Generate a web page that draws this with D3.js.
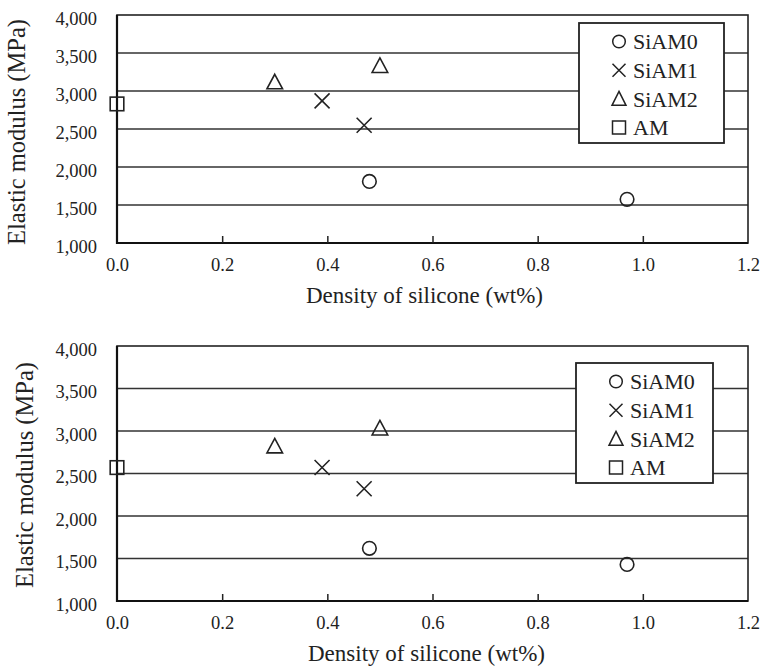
<!DOCTYPE html>
<html>
<head>
<meta charset="utf-8">
<script src="https://cdn.jsdelivr.net/npm/d3@7"></script>
<style>
  html, body { margin: 0; padding: 0; background: #fff; }
  svg { display: block; }
</style>
</head>
<body>
<svg id="chart" width="761" height="667"></svg>
<script>
// ---- data ----
const seriesNames = ["SiAM0", "SiAM1", "SiAM2", "AM"];
const xTicks = [0.0, 0.2, 0.4, 0.6, 0.8, 1.0, 1.2];
const yTicks = [1000, 1500, 2000, 2500, 3000, 3500, 4000];
const xTitle = "Density of silicone (wt%)";
const yTitle = "Elastic modulus (MPa)";

// top panel
const topSiAM0 = [[0.48, 1810], [0.97, 1575]];
const topSiAM1 = [[0.39, 2870], [0.47, 2550]];
const topSiAM2 = [[0.30, 3115], [0.50, 3330]];
const topAM    = [[0.00, 2830]];

// bottom panel
const botSiAM0 = [[0.48, 1620], [0.97, 1430]];
const botSiAM1 = [[0.39, 2570], [0.47, 2320]];
const botSiAM2 = [[0.30, 2820], [0.50, 3030]];
const botAM    = [[0.00, 2570]];

const panels = [
  { series: [topSiAM0, topSiAM1, topSiAM2, topAM],
    box: { left: 117, right: 748, top: 15, bottom: 243 },
    legend: { x: 579, y: 23, w: 145, h: 120 },
    xTitleX: 306, xTitleY: 303, yTitleX: 25, yTitleY: 245 },
  { series: [botSiAM0, botSiAM1, botSiAM2, botAM],
    box: { left: 117, right: 748, top: 346, bottom: 601 },
    legend: { x: 576, y: 363, w: 137, h: 120 },
    xTitleX: 308, xTitleY: 661, yTitleX: 33, yTitleY: 588 }
];

const FONT = '"Liberation Serif", "Times New Roman", serif';
const svg = d3.select("#chart");
const ink = "#222";

function marker(g, type, cx, cy) {
  if (type === 0) {
    g.append("circle").attr("cx", cx).attr("cy", cy).attr("r", 6.8)
      .attr("fill", "none").attr("stroke", ink).attr("stroke-width", 1.6);
  } else if (type === 1) {
    const s = 7.5;
    g.append("path").attr("d", `M${cx - s},${cy - s}L${cx + s},${cy + s}M${cx - s},${cy + s}L${cx + s},${cy - s}`)
      .attr("fill", "none").attr("stroke", ink).attr("stroke-width", 1.6);
  } else if (type === 2) {
    const w = 7.8, h = 14.5;
    g.append("path").attr("d", `M${cx},${cy - h * 0.55}L${cx + w},${cy + h * 0.45}L${cx - w},${cy + h * 0.45}Z`)
      .attr("fill", "none").attr("stroke", ink).attr("stroke-width", 1.6);
  } else {
    const s = 6.8;
    g.append("rect").attr("x", cx - s).attr("y", cy - s).attr("width", 2 * s).attr("height", 2 * s)
      .attr("fill", "none").attr("stroke", ink).attr("stroke-width", 1.6);
  }
}

panels.forEach(p => {
  const b = p.box;
  const x = d3.scaleLinear().domain([0, 1.2]).range([b.left, b.right]);
  const y = d3.scaleLinear().domain([1000, 4000]).range([b.bottom, b.top]);
  const g = svg.append("g");

  // gridlines
  g.append("g").selectAll("line").data(yTicks.filter(v => v > 1000 && v < 4000)).join("line")
    .attr("x1", b.left).attr("x2", b.right)
    .attr("y1", d => y(d)).attr("y2", d => y(d))
    .attr("stroke", "#333").attr("stroke-width", 1.5);

  // frame
  g.append("rect").attr("x", b.left).attr("y", b.top)
    .attr("width", b.right - b.left).attr("height", b.bottom - b.top)
    .attr("fill", "none").attr("stroke", "#222").attr("stroke-width", 1.6);
  g.append("path").attr("d", `M${b.left},${b.top}V${b.bottom}H${b.right}`)
    .attr("fill", "none").attr("stroke", "#111").attr("stroke-width", 2.2);

  // x axis (inner ticks, labels)
  const xAxis = d3.axisBottom(x).tickValues(xTicks).tickSizeInner(-7).tickSizeOuter(0)
    .tickFormat(d3.format(".1f")).tickPadding(15);
  const xa = g.append("g").attr("transform", `translate(0,${b.bottom})`).call(xAxis);
  xa.select(".domain").remove();
  xa.selectAll(".tick line").attr("stroke", "#222").attr("stroke-width", 1.5)
    .filter(d => d === 0 || d === 1.2).remove();
  xa.selectAll(".tick text").style("font-family", FONT).style("font-size", "18.5px")
    .attr("fill", "#222").attr("dy", "0.71em");

  // y axis labels
  const yAxis = d3.axisLeft(y).tickValues(yTicks).tickSize(0).tickPadding(20)
    .tickFormat(d3.format(","));
  const ya = g.append("g").attr("transform", `translate(${b.left},0)`).call(yAxis);
  ya.select(".domain").remove();
  ya.selectAll(".tick text").style("font-family", FONT).style("font-size", "18.5px")
    .attr("fill", "#222").attr("dy", "0.5em");

  // titles
  g.append("text").attr("x", p.xTitleX).attr("y", p.xTitleY)
    .style("font-family", FONT).style("font-size", "23px").attr("fill", "#222").text(xTitle);
  g.append("text").attr("transform", `translate(${p.yTitleX},${p.yTitleY}) rotate(-90)`)
    .style("font-family", FONT).style("font-size", "24.5px").attr("fill", "#222").text(yTitle);

  // points
  p.series.forEach((s, i) => {
    s.forEach(d => marker(g, i, x(d[0]), y(d[1])));
  });

  // legend
  const L = p.legend;
  const lg = g.append("g");
  lg.append("rect").attr("x", L.x).attr("y", L.y).attr("width", L.w).attr("height", L.h)
    .attr("fill", "#fff").attr("stroke", "#222").attr("stroke-width", 1.8);
  const ly = d3.scalePoint().domain(seriesNames).range([L.y + 18.5, L.y + 104.5]);
  seriesNames.forEach((n, i) => {
    const cy = ly(n);
    const cx = L.x + 40;
    if (i === 0) lg.append("circle").attr("cx", cx).attr("cy", cy).attr("r", 6.3)
      .attr("fill", "none").attr("stroke", ink).attr("stroke-width", 1.5);
    else if (i === 1) lg.append("path").attr("d", `M${cx - 6.5},${cy - 6.5}L${cx + 6.5},${cy + 6.5}M${cx - 6.5},${cy + 6.5}L${cx + 6.5},${cy - 6.5}`)
      .attr("stroke", ink).attr("stroke-width", 1.5);
    else if (i === 2) lg.append("path").attr("d", `M${cx},${cy - 7.5}L${cx + 7},${cy + 6.5}L${cx - 7},${cy + 6.5}Z`)
      .attr("fill", "none").attr("stroke", ink).attr("stroke-width", 1.5);
    else lg.append("rect").attr("x", cx - 6.5).attr("y", cy - 6.5).attr("width", 13).attr("height", 13)
      .attr("fill", "none").attr("stroke", ink).attr("stroke-width", 1.5);
    lg.append("text").attr("x", L.x + 54).attr("y", cy).attr("dy", "0.36em")
      .style("font-family", FONT).style("font-size", "22px").attr("fill", "#222").text(n);
  });
});
</script>
</body>
</html>
